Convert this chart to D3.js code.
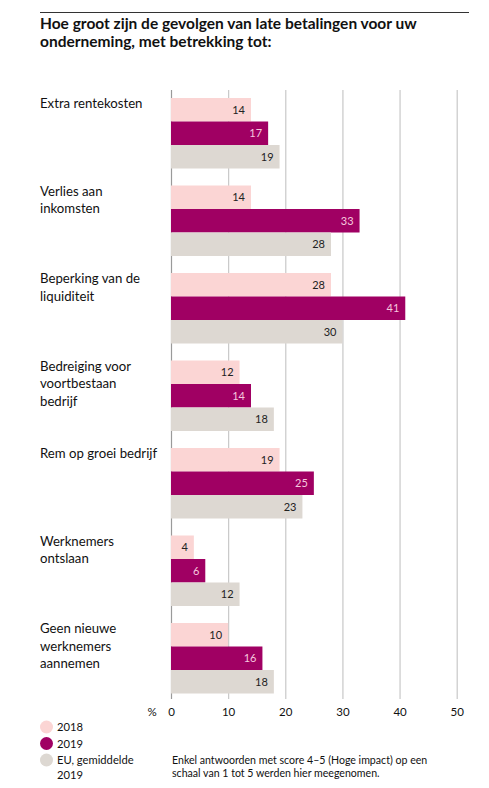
<!DOCTYPE html>
<html><head><meta charset="utf-8">
<script src="https://cdn.jsdelivr.net/npm/d3@7"></script>
<style>body{margin:0;background:#fff;}svg{display:block;font-family:Lato,"Open Sans",sans-serif;}</style>
</head><body><svg id="c" width="489" height="788"></svg>
<script>
const categories = [
  ["Extra rentekosten"],
  ["Verlies aan", "inkomsten"],
  ["Beperking van de", "liquiditeit"],
  ["Bedreiging voor", "voortbestaan", "bedrijf"],
  ["Rem op groei bedrijf"],
  ["Werknemers", "ontslaan"],
  ["Geen nieuwe", "werknemers", "aannemen"]
];
const v2018 = [14, 14, 28, 12, 19, 4, 10];
const v2019 = [17, 33, 41, 14, 25, 6, 16];
const vEU   = [19, 28, 30, 18, 23, 12, 18];
const seriesNames = ["2018", "2019", "EU, gemiddelde|2019"];
const ticks = [0, 10, 20, 30, 40, 50];
const colors = ["#FBD5D4", "#A00063", "#DDD8D2"];
const labelColors = ["#222", "#F6C8DE", "#222"];

const svg = d3.select("#c");
// top rule
svg.append("line").attr("x1", 40).attr("x2", 469).attr("y1", 12.5).attr("y2", 12.5)
  .attr("stroke", "#333").attr("stroke-width", 1);
const title = svg.append("text").attr("x", 40).attr("y", 29)
  .attr("font-family", "Lato, sans-serif").attr("font-weight", "bold").attr("font-size", 15.5).attr("fill", "#111");
title.append("tspan").attr("x", 40).text("Hoe groot zijn de gevolgen van late betalingen voor uw");
title.append("tspan").attr("x", 40).attr("dy", 17.5).text("onderneming, met betrekking tot:");

const x = d3.scaleLinear().domain([0, 50]).range([171, 456.7]);
const y = d3.scaleBand().domain(d3.range(categories.length)).range([98, 98 + 87.5 * 7]).paddingInner(0).paddingOuter(0);
const barH = 23.5;

// gridlines
svg.append("g").selectAll("line").data(ticks).join("line")
  .attr("x1", d => x(d) + 0.5).attr("x2", d => x(d) + 0.5)
  .attr("y1", 90).attr("y2", 699)
  .attr("stroke", d => d === 0 ? "#9a9a9a" : "#c8c8c8").attr("stroke-width", 1.2);

const series = [v2018, v2019, vEU];
series.forEach((vals, si) => {
  const g = svg.append("g");
  g.selectAll("rect").data(vals).join("rect")
    .attr("x", x(0)).attr("y", (d, i) => y(i) + si * barH)
    .attr("width", d => x(d) - x(0)).attr("height", barH)
    .attr("fill", colors[si]);
  g.selectAll("text").data(vals).join("text")
    .attr("x", d => x(d) - 6).attr("y", (d, i) => y(i) + si * barH + barH / 2 + 4)
    .attr("text-anchor", "end").attr("font-size", 11).attr("fill", labelColors[si])
    .text(d => d);
});

// category labels
categories.forEach((lines, i) => {
  const t = svg.append("text").attr("x", 40).attr("y", y(i) + 10)
    .attr("font-size", 13.2).attr("fill", "#111");
  lines.forEach((l, j) => t.append("tspan").attr("x", 40).attr("dy", j === 0 ? 0 : 17.5).text(l));
});

// axis tick labels
svg.append("g").selectAll("text").data(ticks).join("text")
  .attr("x", d => x(d) + 0.5).attr("y", 716).attr("text-anchor", "middle")
  .attr("font-size", 11.5).attr("fill", "#111").text(d => d);
svg.append("text").attr("x", 152).attr("y", 716).attr("text-anchor", "middle")
  .attr("font-size", 11.5).attr("fill", "#111").text("%");

// legend
const ly = [727, 743.5, 760];
seriesNames.forEach((n, i) => {
  svg.append("circle").attr("cx", 46.5).attr("cy", ly[i]).attr("r", 6.5).attr("fill", colors[i]);
  const t = svg.append("text").attr("x", 57).attr("y", ly[i] + 4).attr("font-size", 11.2).attr("fill", "#111");
  n.split("|").forEach((l, j) => t.append("tspan").attr("x", 57).attr("dy", j === 0 ? 0 : 14.5).text(l));
});

// footnote
const fn = svg.append("text").attr("x", 172).attr("y", 764).attr("font-size", 10.6).attr("fill", "#111");
fn.append("tspan").attr("x", 172).text("Enkel antwoorden met score 4–5 (Hoge impact) op een");
fn.append("tspan").attr("x", 172).attr("dy", 13).text("schaal van 1 tot 5 werden hier meegenomen.");
</script></body></html>
